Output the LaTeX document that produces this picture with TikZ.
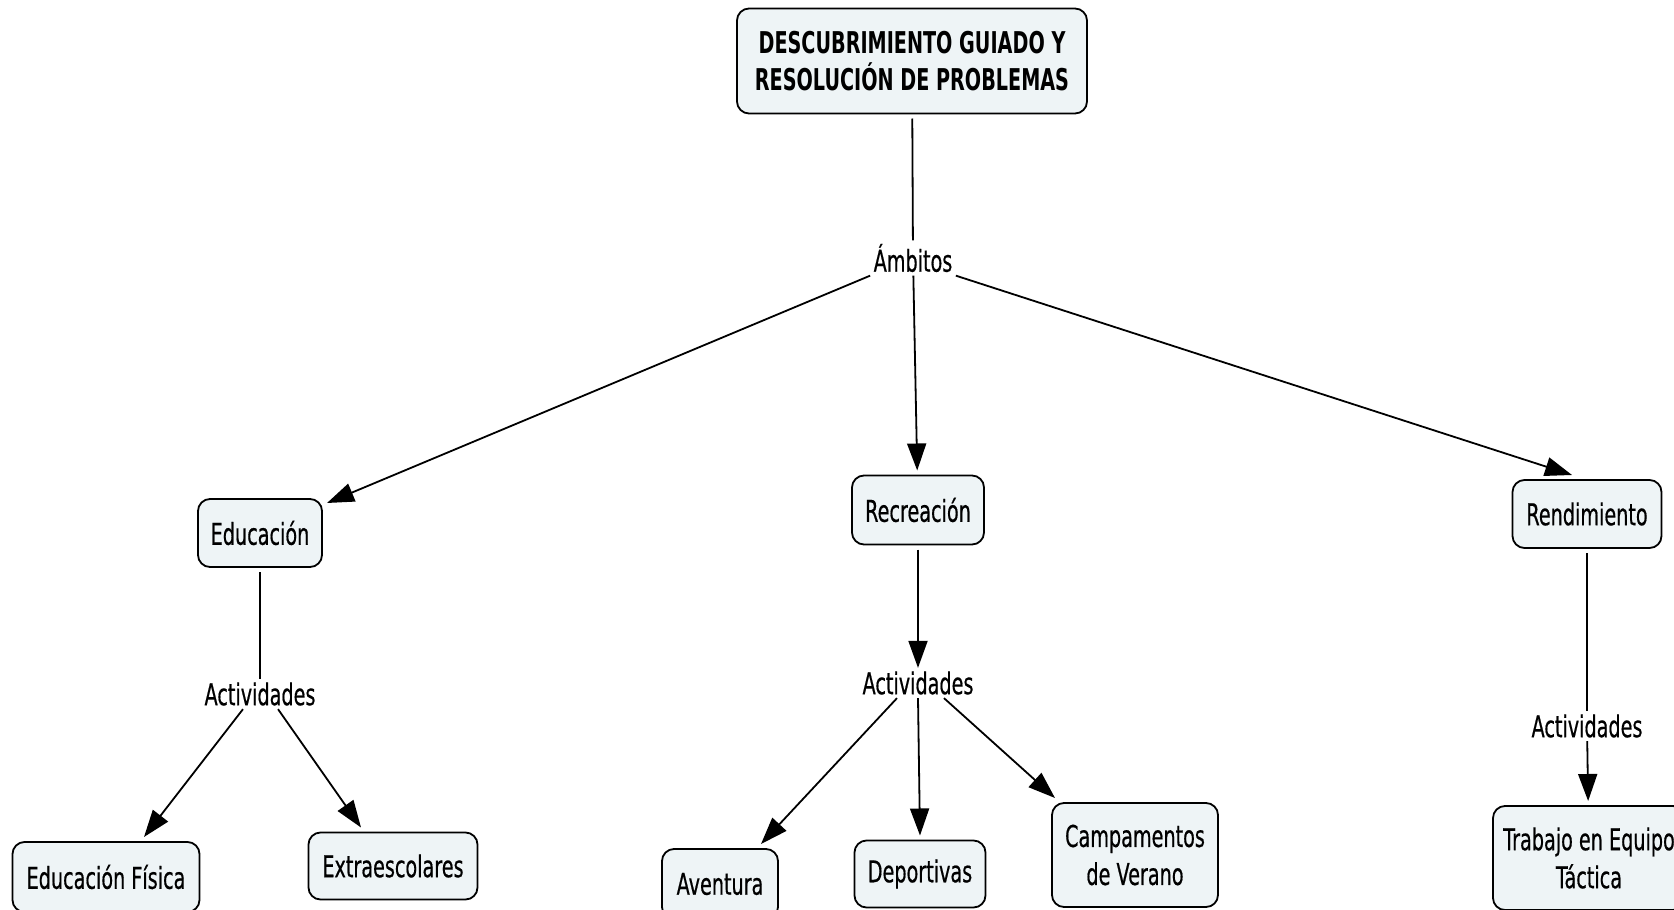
\documentclass[tikz,border=0pt]{standalone}
\usepackage{fontspec}
\setmainfont{DejaVu Sans}[FakeStretch=0.64,UprightFeatures={FakeBold=0.5}]
\usetikzlibrary{arrows.meta,positioning}
\definecolor{boxfill}{RGB}{238,244,246}

\begin{document}
\begin{tikzpicture}[x=1pt,y=-1pt,
  every node/.style={font=\fontsize{30}{38}\selectfont,align=center},
  concept/.style={draw,line width=1.8pt,rounded corners=12pt,fill=boxfill,inner sep=0pt,outer sep=5pt},
  link/.style={line width=1.8pt},
  linkarrow/.style={link,-{Triangle[length=27pt,width=19pt]}}]
	%% page
	\useasboundingbox (0,0) rectangle (1674,910);

	% concepts
	\node[concept,minimum width=350pt,minimum height=105pt,font=\fontsize{30}{37}\selectfont\bfseries] (main) at (912,61) {DESCUBRIMIENTO GUIADO Y\\RESOLUCIÓN DE PROBLEMAS};
	\node[concept,minimum width=124pt,minimum height=68pt] (edu) at (260,533) {Educación};
	\node[concept,minimum width=132pt,minimum height=69pt] (rec) at (918,510) {Recreación};
	\node[concept,minimum width=149pt,minimum height=68pt] (rend) at (1587,514) {Rendimiento};

	\node[concept,minimum width=187pt,minimum height=70pt] (efis) at (106,877) {Educación Física};
	\node[concept,minimum width=169pt,minimum height=67pt] (extra) at (393,866) {Extraescolares};
	\node[concept,minimum width=116pt,minimum height=70pt] (avent) at (720,884) {Aventura};
	\node[concept,minimum width=131pt,minimum height=67pt] (dep) at (920,874) {Deportivas};
	\node[concept,minimum width=166pt,minimum height=104pt] (camp) at (1135,855) {Campamentos\\de Verano};
	\node[concept,minimum width=192pt,minimum height=104pt] (trab) at (1589,858) {Trabajo en Equipo\\Táctica};

	% linking phrases
	\node (amb) at (913,258) {Ámbitos};
	\node (act1) at (260,694) {Actividades};
	\node (act2) at (918,683) {Actividades};
	\node (act3) at (1587,726) {Actividades};

	% connectors
	\draw[link] (main) -- (amb);
	\draw[linkarrow] (amb.south west) -- ([yshift=-9pt]edu.north east);
	\draw[linkarrow] (amb) -- (rec);
	\draw[linkarrow] (amb.south east) -- ([xshift=-15pt]rend.north);

	\draw[link] (edu) -- (act1);
	\draw[linkarrow] ([xshift=-17pt]act1.south) -- ([xshift=38pt]efis.north);
	\draw[linkarrow] ([xshift=18pt]act1.south) -- ([xshift=-32pt]extra.north);

	\draw[linkarrow] (rec) -- (act2);
	\draw[linkarrow] ([xshift=-21pt]act2.south) -- ([xshift=41pt]avent.north);
	\draw[linkarrow] (act2.south) -- (dep.north);
	\draw[linkarrow] ([xshift=26pt]act2.south) -- ([xshift=8pt]camp.north west);

	\draw[link] (rend) -- (act3);
	\draw[linkarrow] (act3) -- (trab);
\end{tikzpicture}
\end{document}
